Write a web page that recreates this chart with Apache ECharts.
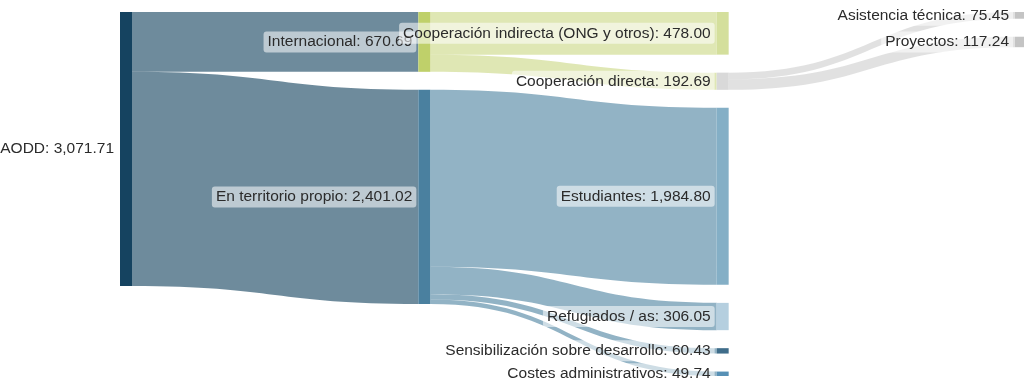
<!DOCTYPE html>
<html>
<head>
<meta charset="utf-8">
<script src="https://cdn.jsdelivr.net/npm/echarts@6/dist/echarts.min.js"></script>
<style>
html,body{margin:0;padding:0;background:#fff;}
#chart{width:1024px;height:389px;}
</style>
</head>
<body>
<div id="chart"></div>
<script>
// ---- Data ----
const nodeNames = [
  "AODD",
  "Internacional",
  "En territorio propio",
  "Cooperación indirecta (ONG y otros)",
  "Cooperación directa",
  "Estudiantes",
  "Refugiados / as",
  "Sensibilización sobre desarrollo",
  "Costes administrativos",
  "Asistencia técnica",
  "Proyectos"
];
const linkSources = [
  "AODD", "AODD",
  "Internacional", "Internacional",
  "En territorio propio", "En territorio propio", "En territorio propio", "En territorio propio",
  "Cooperación directa", "Cooperación directa"
];
const linkTargets = [
  "Internacional", "En territorio propio",
  "Cooperación indirecta (ONG y otros)", "Cooperación directa",
  "Estudiantes", "Refugiados / as", "Sensibilización sobre desarrollo", "Costes administrativos",
  "Asistencia técnica", "Proyectos"
];
const linkValues = [
  670.69, 2401.02,
  478.00, 192.69,
  1984.80, 306.05, 60.43, 49.74,
  75.45, 117.24
];

// ---- Styles ----
const nodeColors = {
  "AODD": "#154360",
  "Internacional": "#bfd06a",
  "En territorio propio": "#4a809f",
  "Cooperación indirecta (ONG y otros)": "#d4df9c",
  "Cooperación directa": "#d9d9d9",
  "Estudiantes": "#84afc6",
  "Refugiados / as": "#b5cfdf",
  "Sensibilización sobre desarrollo": "#3f6d8a",
  "Costes administrativos": "#5790b5",
  "Asistencia técnica": "#c4c4c4",
  "Proyectos": "#c4c4c4"
};
const linkStyleBySource = {
  "AODD": {color: "#154360", opacity: 0.62},
  "Internacional": {color: "#bfd06a", opacity: 0.5},
  "En territorio propio": {color: "#4a809f", opacity: 0.6},
  "Cooperación directa": {color: "#c4c4c4", opacity: 0.5}
};

const fmt = v => v.toLocaleString('en-US', {minimumFractionDigits: 2, maximumFractionDigits: 2});

const chart = echarts.init(document.getElementById('chart'), null, {renderer: 'canvas'});
chart.setOption({
  animation: false,
  backgroundColor: '#ffffff',
  series: [{
    type: 'sankey',
    left: 120,
    right: -3,
    top: 12,
    bottom: 13,
    nodeWidth: 12,
    nodeGap: 18,
    nodeAlign: 'left',
    layoutIterations: 0,
    draggable: false,
    emphasis: {disabled: true},
    data: nodeNames.map(n => ({name: n, itemStyle: {color: nodeColors[n], borderWidth: 0}})),
    links: linkValues.map((v, i) => ({
      source: linkSources[i],
      target: linkTargets[i],
      value: v,
      lineStyle: Object.assign({curveness: 0.5}, linkStyleBySource[linkSources[i]])
    })),
    label: {
      show: true,
      position: 'left',
      distance: 2,
      color: '#2b2b2b',
      fontSize: 15.5,
      fontFamily: '"Liberation Sans", Arial, sans-serif',
      backgroundColor: 'rgba(255,255,255,0.55)',
      borderRadius: 3,
      padding: [3, 4, 2, 4],
      formatter: p => p.name + ': ' + fmt(p.value)
    }
  }]
});
</script>
</body>
</html>
